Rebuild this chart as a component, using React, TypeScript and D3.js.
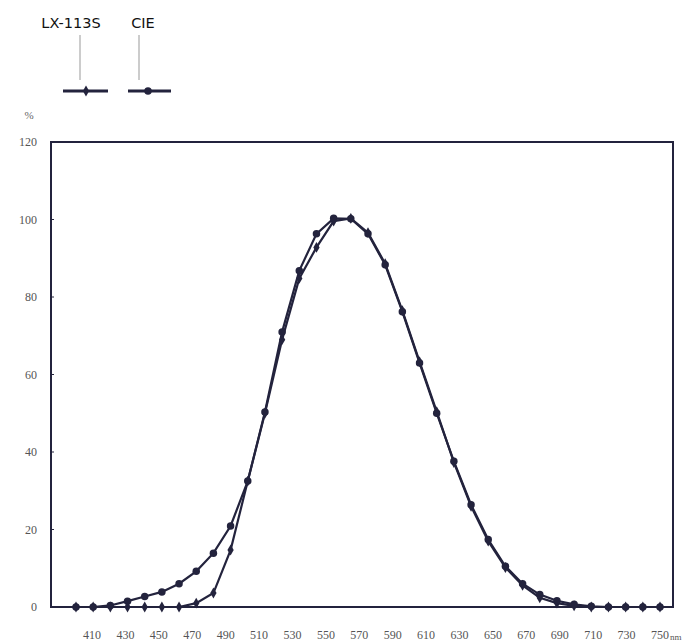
import React from "react";
import * as d3 from "d3";

const wavelengths = [410,420,430,440,450,460,470,480,490,500,510,520,530,540,550,560,570,580,590,600,610,620,630,640,650,660,670,680,690,700,710,720,730,740,750];
const cieValues = [0,0,0.4,1.5,2.7,3.9,6.0,9.2,13.9,20.9,32.5,50.3,71.0,86.8,96.3,100.3,100.2,96.3,88.3,76.2,63.0,50.0,37.6,26.4,17.4,10.5,6.0,3.2,1.6,0.7,0.2,0,0,0,0];
const lxValues = [0,0,0,0,0,0,0,1.0,3.6,14.7,32.5,50.0,69.0,84.8,92.8,99.6,100.3,96.6,88.6,76.5,63.3,50.4,37.3,26.0,17.0,10.2,5.6,2.4,1.0,0.3,0,0,0,0,0];
const xTickLabels = [410,430,450,470,490,510,530,550,570,590,610,630,650,670,690,710,730,750];
const yTicks = [0,20,40,60,80,100,120];
const seriesNames = ["LX-113S","CIE"];

export default function App() {
  const left = 51, right = 673, top = 142, bottom = 607;
  const x = d3.scaleLinear().domain([410, 750]).range([76, 660]);
  const xLab = d3.scaleLinear().domain([410, 750]).range([92, 660]);
  const y = d3.scaleLinear().domain([0, 120]).range([bottom, top]);
  const line = d3.line<number>().x((_, i) => x(wavelengths[i])).y(d => y(d));
  const ink = "#23233d";
  const diamond = d3.symbol().type(d3.symbolDiamond).size(34)()!;
  const circle = d3.symbol().type(d3.symbolCircle).size(44)()!;
  return (
    <svg width={694} height={643} style={{ position: "absolute", left: 0, top: 0, background: "#fff" }}>
      {/* legend */}
      <g fontFamily="DejaVu Sans, Verdana, sans-serif" fontSize={14.5} fill="#111">
        <text x={71} y={28} textAnchor="middle">{seriesNames[0]}</text>
        <text x={143} y={28} textAnchor="middle">{seriesNames[1]}</text>
      </g>
      <line x1={80} x2={80} y1={35} y2={80} stroke="#999" strokeWidth={1} />
      <line x1={139} x2={139} y1={35} y2={80} stroke="#999" strokeWidth={1} />
      <line x1={63} x2={108} y1={91} y2={91} stroke={ink} strokeWidth={3} />
      <path d={diamond} transform="translate(86,91)" fill={ink} />
      <line x1={128} x2={171} y1={91} y2={91} stroke={ink} strokeWidth={3} />
      <path d={circle} transform="translate(148,91)" fill={ink} />
      {/* y unit */}
      <text x={29} y={119} textAnchor="middle" fontFamily="Liberation Serif, serif" fontSize={11} fill="#666">%</text>
      {/* y ticks */}
      <g fontFamily="Liberation Serif, serif" fontSize={12} fill="#555">
        {yTicks.map(t => (
          <g key={t}>
            <text x={37} y={y(t) + 4} textAnchor="end">{t}</text>
            <line x1={left} x2={left + 3} y1={y(t)} y2={y(t)} stroke={ink} strokeWidth={1} />
          </g>
        ))}
      </g>
      {/* x labels */}
      <g fontFamily="Liberation Serif, serif" fontSize={12} fill="#555">
        {xTickLabels.map(t => (
          <text key={t} x={xLab(t)} y={639} textAnchor="middle">{t}</text>
        ))}
        <text x={xLab(750) + 10} y={640} fontSize={9}>nm</text>
      </g>
      {/* frame */}
      <rect x={left} y={top} width={right - left} height={bottom - top} fill="none" stroke={ink} strokeWidth={2} />
      {/* curves */}
      <path d={line(cieValues)!} fill="none" stroke={ink} strokeWidth={2.2} />
      <path d={line(lxValues)!} fill="none" stroke={ink} strokeWidth={2.2} />
      {cieValues.map((v, i) => (
        <path key={"c" + i} d={circle} transform={`translate(${x(wavelengths[i])},${y(v)})`} fill={ink} />
      ))}
      {lxValues.map((v, i) => (
        <path key={"l" + i} d={diamond} transform={`translate(${x(wavelengths[i])},${y(v)})`} fill={ink} />
      ))}
    </svg>
  );
}
